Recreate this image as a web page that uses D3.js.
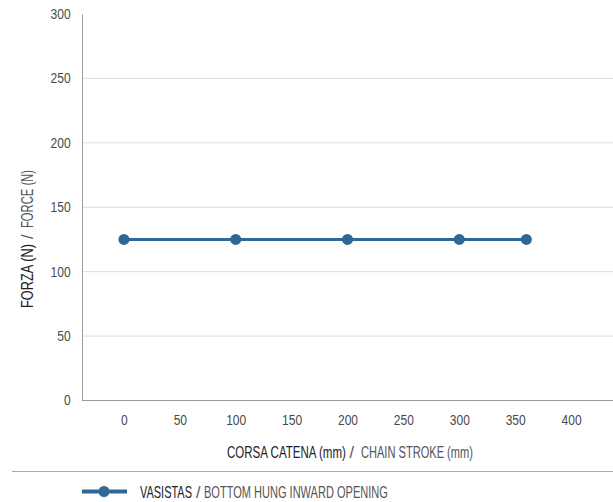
<!DOCTYPE html>
<html><head><meta charset="utf-8">
<script src="https://cdn.jsdelivr.net/npm/d3@7"></script>
<style>
html,body{margin:0;padding:0;background:#fff;}
text{font-family:"Liberation Sans","Arial",sans-serif;}
</style></head>
<body>
<svg id="chart" width="613" height="502"></svg>
<script>
const strokeValues = [0, 100, 200, 300, 360];
const forceValues = [125, 125, 125, 125, 125];
const xTicks = [0, 50, 100, 150, 200, 250, 300, 350, 400];
const yTicks = [0, 50, 100, 150, 200, 250, 300];
const seriesName = ["VASISTAS", "/", "BOTTOM HUNG INWARD OPENING"];
const xTitle = ["CORSA CATENA (mm)", "/", "CHAIN STROKE (mm)"];
const yTitle = ["FORZA (N)", "/", "FORCE (N)"];

(function(){
const svg = d3.select("#chart");
const color = "#2f6896";
const pLeft = 82, pRight = 613, pTop = 14, pBottom = 400.5;
const sx = 0.86;

const x = d3.scaleLinear().domain([-37.5, 437.5]).range([pLeft, pRight]);
const y = d3.scaleLinear().domain([0, 300]).range([pBottom, pTop]);

// grid
svg.append("g").selectAll("line").data(yTicks.filter(d => d > 0 && d < 300)).join("line")
  .attr("x1", pLeft).attr("x2", pRight)
  .attr("y1", d => y(d)).attr("y2", d => y(d))
  .attr("stroke", "#dcdcdc").attr("stroke-width", 1);

// y axis
const yAxis = svg.append("g").attr("transform", `translate(${pLeft},0)`)
  .call(d3.axisLeft(y).tickValues(yTicks).tickSize(0).tickPadding(11.3));
yAxis.select(".domain").attr("stroke", "#9a9a9a");
yAxis.selectAll("text").attr("font-size", 14).attr("fill", "#4a4a4a")
  .attr("x", -11.3 / sx).attr("transform", `scale(${sx},1)`);

// x axis
const xAxis = svg.append("g").attr("transform", `translate(0,${pBottom})`)
  .call(d3.axisBottom(x).tickValues(xTicks).tickSize(0).tickPadding(15));
xAxis.select(".domain").attr("stroke", "#9a9a9a").attr("d", `M${pLeft},0H${pRight}`);
xAxis.selectAll("text").attr("font-size", 14).attr("fill", "#4a4a4a")
  .attr("transform", `scale(${sx},1)`);

// text squeezed horizontally to a given width via scale transform
function squeezed(g, str, x0, y0, len, fill) {
  const t = g.append("text").attr("font-size", 16).attr("fill", fill).text(str);
  const natural = t.node().getComputedTextLength();
  const k = len / natural;
  t.attr("transform", `translate(${x0},${y0}) scale(${k},1)`);
  return t;
}

// x title
squeezed(svg, xTitle[0], 227, 457.5, 119, "#222");
squeezed(svg, xTitle[1], 349.5, 457.5, 4.5, "#555");
squeezed(svg, xTitle[2], 361, 457.5, 112, "#555");

// y title
const ytg = svg.append("g").attr("transform", "translate(32.5,308) rotate(-90)");
squeezed(ytg, yTitle[0], 0, 0, 64, "#222");
squeezed(ytg, yTitle[1], 69, 0, 4.5, "#555");
squeezed(ytg, yTitle[2], 80, 0, 58, "#555");

// series
const data = strokeValues.map((s, i) => ({s, f: forceValues[i]}));
svg.append("path").datum(data)
  .attr("d", d3.line().x(d => x(d.s)).y(d => y(d.f)))
  .attr("fill", "none").attr("stroke", color).attr("stroke-width", 3);
svg.append("g").selectAll("circle").data(data).join("circle")
  .attr("cx", d => x(d.s)).attr("cy", d => y(d.f)).attr("r", 5.5).attr("fill", color);

// separator
svg.append("line").attr("x1", 12).attr("x2", 613).attr("y1", 471.5).attr("y2", 471.5)
  .attr("stroke", "#aaa").attr("stroke-width", 1);

// legend
svg.append("line").attr("x1", 82).attr("x2", 127).attr("y1", 491.5).attr("y2", 491.5)
  .attr("stroke", color).attr("stroke-width", 4);
svg.append("circle").attr("cx", 104).attr("cy", 491.5).attr("r", 5.5).attr("fill", color);
squeezed(svg, seriesName[0], 140, 497.5, 52, "#222");
squeezed(svg, seriesName[1], 196, 497.5, 4.5, "#555");
squeezed(svg, seriesName[2], 204, 497.5, 184, "#555");
})();
</script>
</body></html>
